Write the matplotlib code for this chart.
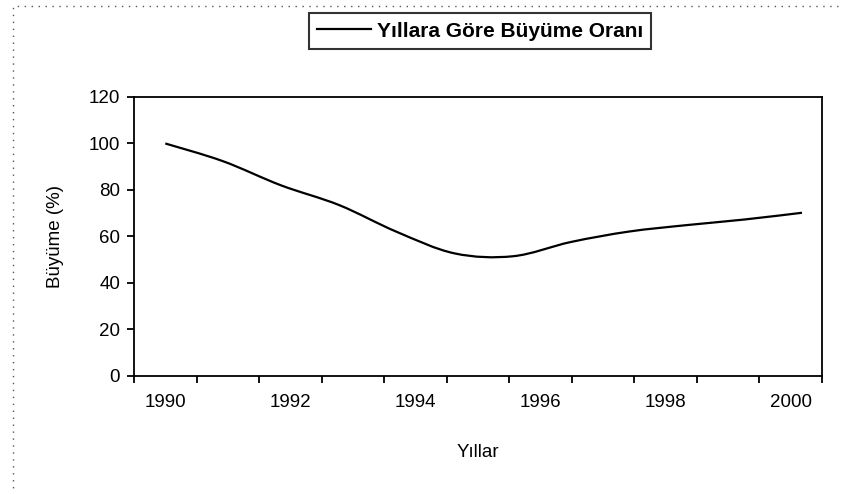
import matplotlib
matplotlib.use("Agg")
import matplotlib.pyplot as plt
from matplotlib.path import Path
from matplotlib.patches import PathPatch, Rectangle
from matplotlib.lines import Line2D

plt.rcParams['font.family'] = ['Liberation Sans', 'DejaVu Sans']

# okunan veriler
yillar = [1990.0, 1990.92, 1991.85, 1992.78, 1993.70, 1994.63,
          1995.56, 1996.48, 1997.41, 1998.34, 1999.26, 2000.18]
buyume = [100, 92.4, 82, 73.5, 62, 52.7, 51.5, 57.6, 62.1, 64.9, 67.3, 70.2]
etiket_yillar = [1990, 1992, 1994, 1996, 1998, 2000]
y_ticks = [0, 20, 40, 60, 80, 100, 120]


def smooth_path(xs, ys, t=1.0 / 6):
    # Excel tarzi yumusak cizgi: Catmull-Rom -> Bezier
    verts = [(xs[0], ys[0])]
    codes = [Path.MOVETO]
    n = len(xs)
    for i in range(n - 1):
        x0, y0 = xs[max(i - 1, 0)], ys[max(i - 1, 0)]
        x1, y1 = xs[i], ys[i]
        x2, y2 = xs[i + 1], ys[i + 1]
        x3, y3 = xs[min(i + 2, n - 1)], ys[min(i + 2, n - 1)]
        c1 = (x1 + (x2 - x0) * t, y1 + (y2 - y0) * t)
        c2 = (x2 - (x3 - x1) * t, y2 - (y3 - y1) * t)
        verts += [c1, c2, (x2, y2)]
        codes += [Path.CURVE4] * 3
    return Path(verts, codes)


fig = plt.figure(figsize=(8.45, 4.94), dpi=100)
ax = fig.add_axes([0.1586, 0.2389, 0.8142, 0.5648])

ax.add_patch(PathPatch(smooth_path(yillar, buyume), facecolor='none',
                       edgecolor='black', linewidth=1.6))

ax.set_xlim(1989.5, 2000.5)
ax.set_ylim(0, 120)
ax.set_yticks(y_ticks)
ax.set_xticks([1989.5 + k for k in range(12)])
ax.set_xticklabels([])
ax.set_xticks(etiket_yillar, minor=True)
ax.set_xticklabels([str(y) for y in etiket_yillar], minor=True)
ax.tick_params(axis='x', which='major', direction='out', length=5, width=1.3)
ax.tick_params(axis='x', which='minor', length=0, pad=13, labelsize=13.5)
ax.tick_params(axis='y', direction='out', length=5, width=1.3, pad=5, labelsize=13.5)
for s in ax.spines.values():
    s.set_linewidth(1.3)

ax.set_ylabel('Büyüme (%)', fontsize=13.5, labelpad=18)
ax.set_xlabel('Yıllar', fontsize=13.5, labelpad=24)

h = Line2D([], [], color='black', linewidth=1.6)
leg = fig.legend([h], ['Yıllara Göre Büyüme Oranı'], loc='center',
                 bbox_to_anchor=(0.568, 0.937), frameon=True, fancybox=False,
                 handlelength=2.6, handletextpad=0.25, borderpad=0.4,
                 prop={'weight': 'bold', 'size': 15})
leg.get_frame().set_edgecolor('black')
leg.get_frame().set_linewidth(1.5)

# kesikli cerceve
fig.patches.append(Rectangle((0.015, -0.1), 1.2, 1.088, transform=fig.transFigure,
                             fill=False, edgecolor='#555555', linewidth=1,
                             linestyle=(0, (1, 4))))

fig.savefig('out.png', dpi=100)
